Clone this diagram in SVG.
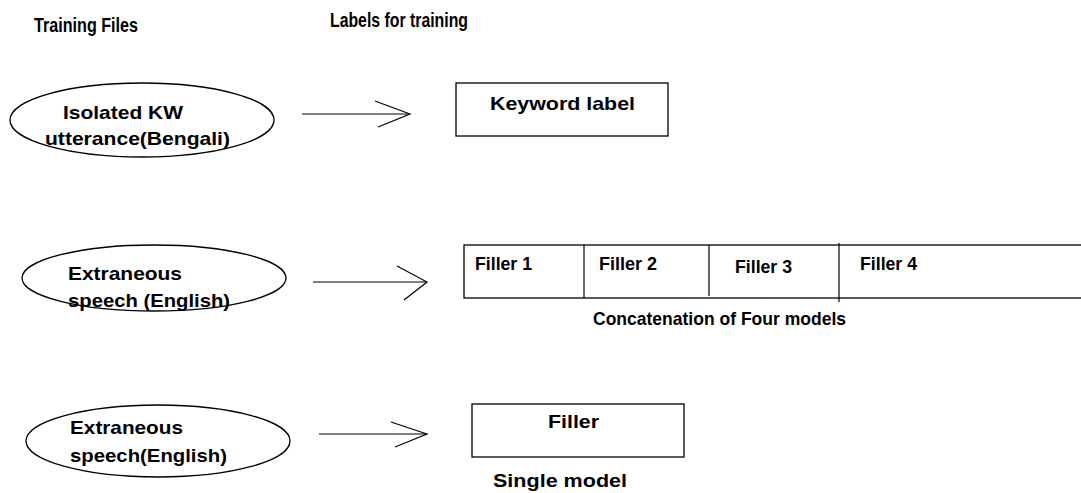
<svg xmlns="http://www.w3.org/2000/svg" width="1081" height="493" viewBox="0 0 1081 493">
<style>
text{font-family:"Liberation Sans Narrow","Liberation Sans",Arial,sans-serif;font-weight:bold;font-size:19px;fill:#000}
.hdr{font-size:20px}
.shape{fill:#fff;stroke:#000;stroke-width:1.3}
.conn{fill:none;stroke:#000;stroke-width:1.2}
</style>
<rect width="1081" height="493" fill="#fff"/>
<g id="headers">
<text class="hdr" x="34" y="32" textLength="104" lengthAdjust="spacingAndGlyphs">Training Files</text>
<text class="hdr" x="330" y="27" textLength="138" lengthAdjust="spacingAndGlyphs">Labels for training</text>
</g>
<g id="file-kw">
<ellipse class="shape" cx="142" cy="120" rx="132" ry="37"/>
<text x="63" y="119" textLength="120" lengthAdjust="spacingAndGlyphs">Isolated KW</text>
<text x="45" y="145" textLength="185" lengthAdjust="spacingAndGlyphs">utterance(Bengali)</text>
</g>
<g id="file-ext1">
<ellipse class="shape" cx="154" cy="278" rx="132" ry="33"/>
<text x="68" y="280" textLength="114" lengthAdjust="spacingAndGlyphs">Extraneous</text>
<text x="68" y="307" textLength="162" lengthAdjust="spacingAndGlyphs">speech (English)</text>
</g>
<g id="file-ext2">
<ellipse class="shape" cx="158" cy="441" rx="132" ry="36"/>
<text x="70" y="434" textLength="113" lengthAdjust="spacingAndGlyphs">Extraneous</text>
<text x="70" y="462" textLength="157" lengthAdjust="spacingAndGlyphs">speech(English)</text>
</g>
<g id="label-kw">
<rect class="shape" x="456" y="83" width="212" height="53"/>
<text x="490" y="110" textLength="145" lengthAdjust="spacingAndGlyphs">Keyword label</text>
</g>
<g id="label-fillers">
<rect class="shape" x="464" y="245" width="630" height="53"/>
<line class="conn" x1="584" y1="245" x2="584" y2="298"/>
<line class="conn" x1="709" y1="245" x2="709" y2="296"/>
<line class="conn" x1="839" y1="243" x2="839" y2="302"/>
<text x="475" y="270" textLength="57" lengthAdjust="spacingAndGlyphs">Filler 1</text>
<text x="599" y="270" textLength="58" lengthAdjust="spacingAndGlyphs">Filler 2</text>
<text x="735" y="273" textLength="57" lengthAdjust="spacingAndGlyphs">Filler 3</text>
<text x="860" y="270" textLength="57" lengthAdjust="spacingAndGlyphs">Filler 4</text>
<text x="593" y="325" textLength="253" lengthAdjust="spacingAndGlyphs">Concatenation of Four models</text>
</g>
<g id="label-filler">
<rect class="shape" x="472" y="404" width="212" height="53"/>
<text x="548" y="428" textLength="51" lengthAdjust="spacingAndGlyphs">Filler</text>
<text x="493" y="487" textLength="134" lengthAdjust="spacingAndGlyphs">Single model</text>
</g>
<g id="connectors">
<line class="conn" x1="302" y1="114" x2="410" y2="114"/>
<polyline class="conn" points="375,101 410,114 378,127"/>
<line class="conn" x1="313" y1="282" x2="427" y2="282"/>
<polyline class="conn" points="397,266 427,282 404,300"/>
<line class="conn" x1="319" y1="434" x2="427" y2="434"/>
<polyline class="conn" points="391,422 427,434 395,447"/>
</g>
</svg>
